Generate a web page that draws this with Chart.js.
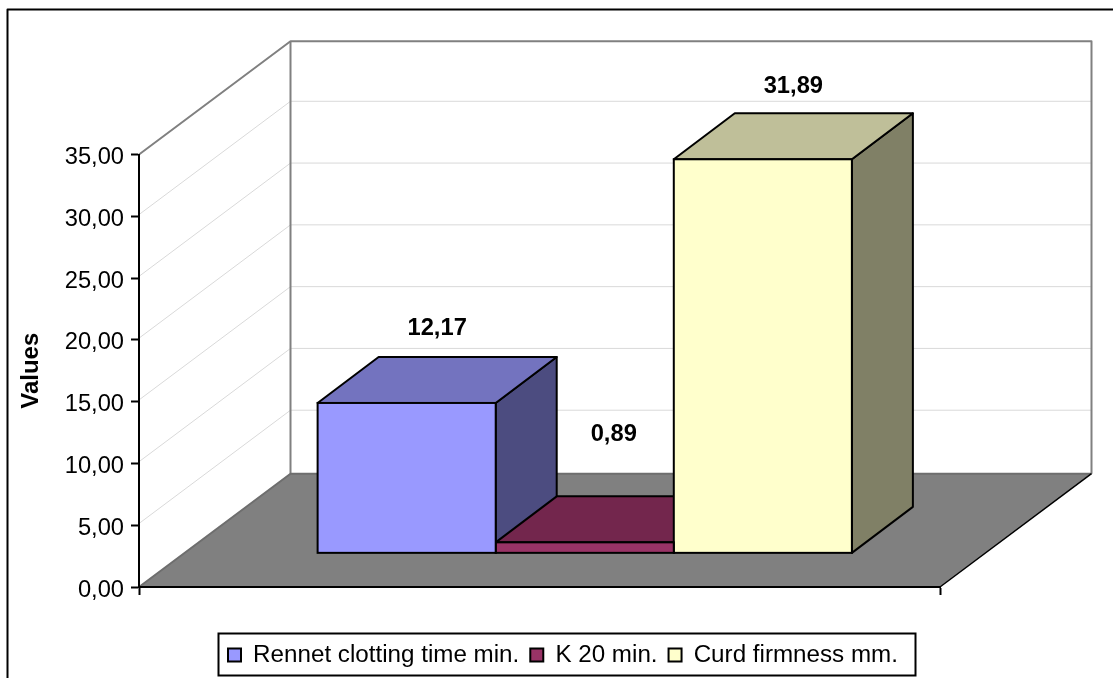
<!DOCTYPE html>
<html>
<head>
<meta charset="utf-8">
<title>Values</title>
<script src="https://cdn.jsdelivr.net/npm/chart.js@4"></script>
<style>
  html, body { margin: 0; padding: 0; background: #fff; }
  canvas { display: block; }
</style>
</head>
<body>
<canvas id="chart" width="1113" height="678"></canvas>
<script>
var categories = [''];
var seriesNames = ['Rennet clotting time min.', 'K 20 min.', 'Curd firmness mm.'];
var rennetTime = [12.17];
var k20 = [0.89];
var curdFirmness = [31.89];

var frontColors = ['#9999FF', '#993366', '#FFFFCC'];
var topColors = ['#7373BF', '#73264D', '#BFBF99'];
var sideColors = ['#4C4C80', '#4D1A33', '#808066'];

var FONT = '"Liberation Sans", Arial, sans-serif';
var FONT_SIZE = 23.7;

// depth of the whole floor, and of one column standing in the middle of it
var wallDx = 151.5, wallDy = 113.3;
var barDx = 61, barDy = 46;
var shiftX = (wallDx - barDx) / 2, shiftY = (wallDy - barDy) / 2;

// where each value label sits relative to its column's top
var labelLift = [75, 108, 73];
var labelNudgeX = [0, -1.5, 0];

var formatValue = function (v) {
  return Number(v).toFixed(2).replace('.', ',');
};

var poly = function (ctx, pts, fill, stroke, width) {
  ctx.beginPath();
  pts.forEach(function (p, i) {
    if (i === 0) ctx.moveTo(p[0], p[1]); else ctx.lineTo(p[0], p[1]);
  });
  if (fill) {
    ctx.closePath();
    ctx.fillStyle = fill;
    ctx.fill();
  }
  if (stroke) {
    ctx.strokeStyle = stroke;
    ctx.lineWidth = width;
    ctx.stroke();
  }
};

var box3d = {
  id: 'box3d',
  afterLayout: function (chart) {
    // canvas "middle" sits high for these digits, push the tick labels down a bit
    chart.scales.y.getLabelItems().forEach(function (item) {
      item.options.translation[1] += 3;
    });
  },
  beforeDraw: function (chart) {
    var ctx = chart.ctx, area = chart.chartArea, y = chart.scales.y;
    ctx.save();
    ctx.lineJoin = 'round';

    // outer frame only has a top and left edge
    poly(ctx, [[7.5, 678], [7.5, 9.5], [1113, 9.5]], null, '#000', 2);

    // gridlines on the side wall and back wall
    y.ticks.forEach(function (t) {
      var py = y.getPixelForValue(t.value) - 1.7;
      if (t.value === y.max || t.value === y.min) return;
      poly(ctx, [[area.left, py], [area.left + wallDx, py - wallDy], [area.right + wallDx, py - wallDy]], null, '#D9D9D9', 1);
    });

    // wall outline
    poly(ctx, [
      [area.left, area.top],
      [area.left + wallDx, area.top - wallDy],
      [area.right + wallDx, area.top - wallDy],
      [area.right + wallDx, area.bottom - wallDy]
    ], null, '#808080', 2);
    poly(ctx, [[area.left + wallDx, area.top - wallDy], [area.left + wallDx, area.bottom - wallDy]], null, '#808080', 2);

    // floor
    poly(ctx, [
      [area.left, area.bottom],
      [area.left + wallDx, area.bottom - wallDy],
      [area.right + wallDx, area.bottom - wallDy],
      [area.right, area.bottom]
    ], '#808080');
    poly(ctx, [[area.left, area.bottom], [area.left + wallDx, area.bottom - wallDy], [area.right + wallDx, area.bottom - wallDy]], null, '#6E6E6E', 2);
    poly(ctx, [[area.right + wallDx, area.bottom - wallDy], [area.right, area.bottom]], null, '#000', 1.5);
    ctx.restore();

    // legend placement is fixed under the floor
    chart.legend.left = 217;
    chart.legend.top = 632;
  },
  beforeDatasetsDraw: function (chart) {
    var ctx = chart.ctx;
    ctx.save();
    ctx.lineJoin = 'round';
    ctx.translate(shiftX, -shiftY);
    chart.data.datasets.forEach(function (ds, i) {
      var bar = chart.getDatasetMeta(i).data[0];
      var l = bar.x - bar.width / 2, r = bar.x + bar.width / 2;
      poly(ctx, [[r, bar.y], [r + barDx, bar.y - barDy], [r + barDx, bar.base - barDy], [r, bar.base]], sideColors[i], '#000', 2);
      poly(ctx, [[l, bar.y], [l + barDx, bar.y - barDy], [r + barDx, bar.y - barDy], [r, bar.y]], topColors[i], '#000', 2);
    });
    ctx.restore();
  },
  beforeDatasetDraw: function (chart) {
    chart.ctx.save();
    chart.ctx.translate(shiftX, -shiftY);
  },
  afterDatasetDraw: function (chart, args) {
    var ctx = chart.ctx;
    var bar = args.meta.data[0];
    ctx.strokeStyle = '#000';
    ctx.lineWidth = 2;
    ctx.strokeRect(bar.x - bar.width / 2, bar.y, bar.width, bar.base - bar.y);
    ctx.restore();
  },
  afterDraw: function (chart) {
    var ctx = chart.ctx;
    ctx.save();
    // value labels
    ctx.font = 'bold ' + FONT_SIZE + 'px ' + FONT;
    ctx.fillStyle = '#000';
    ctx.textAlign = 'center';
    ctx.textBaseline = 'middle';
    chart.data.datasets.forEach(function (ds, i) {
      var bar = chart.getDatasetMeta(i).data[0];
      ctx.fillText(formatValue(ds.data[0]), bar.x + shiftX + barDx / 2 + labelNudgeX[i], bar.y - shiftY - labelLift[i]);
    });
    // legend frame
    ctx.strokeStyle = '#000';
    ctx.lineWidth = 2;
    ctx.strokeRect(218.5, 633.5, 697, 42);
    ctx.restore();
  }
};

var config = {
  type: 'bar',
  data: {
    labels: categories,
    datasets: [
      { label: seriesNames[0], data: rennetTime, backgroundColor: frontColors[0] },
      { label: seriesNames[1], data: k20, backgroundColor: frontColors[1] },
      { label: seriesNames[2], data: curdFirmness, backgroundColor: frontColors[2] }
    ]
  },
  options: {
    responsive: false,
    animation: false,
    categoryPercentage: 0.667,
    barPercentage: 1,
    borderWidth: 0,
    layout: { padding: { top: 154.5, right: 173, left: 0, bottom: 0 } },
    scales: {
      x: {
        grid: { offset: true, drawOnChartArea: false, tickLength: 8, tickColor: '#000', tickWidth: 2 },
        border: { color: '#000', width: 2 },
        ticks: { display: false },
        afterFit: function (scale) {
          scale.height = 91 - scale.chart.legend.height;
        }
      },
      y: {
        min: 0,
        max: 35,
        grid: { drawOnChartArea: false, tickLength: 8, tickColor: '#000', tickWidth: 2 },
        border: { color: '#000', width: 2 },
        ticks: {
          stepSize: 5,
          padding: 7,
          color: '#000',
          font: { family: FONT, size: FONT_SIZE },
          callback: function (v) { return formatValue(v); }
        },
        title: {
          display: true,
          text: 'Values',
          color: '#000',
          font: { family: FONT, size: 24, weight: 'bold' },
          padding: { top: 17, bottom: 0 }
        },
        afterFit: function (scale) {
          scale.width = 139;
        }
      }
    },
    plugins: {
      tooltip: { enabled: false },
      legend: {
        position: 'bottom',
        align: 'start',
        labels: {
          boxWidth: 13,
          boxHeight: 13,
          padding: 11,
          color: '#000',
          font: { family: FONT, size: 24.2 },
          generateLabels: function (chart) {
            return chart.data.datasets.map(function (ds, i) {
              return { text: ds.label, fillStyle: frontColors[i], strokeStyle: '#000', lineWidth: 2, datasetIndex: i };
            });
          }
        }
      }
    }
  },
  plugins: [box3d]
};

window.onload = function () {
  var ctx = document.getElementById('chart');
  window.myChart = new Chart(ctx, config);
};
</script>
</body>
</html>
